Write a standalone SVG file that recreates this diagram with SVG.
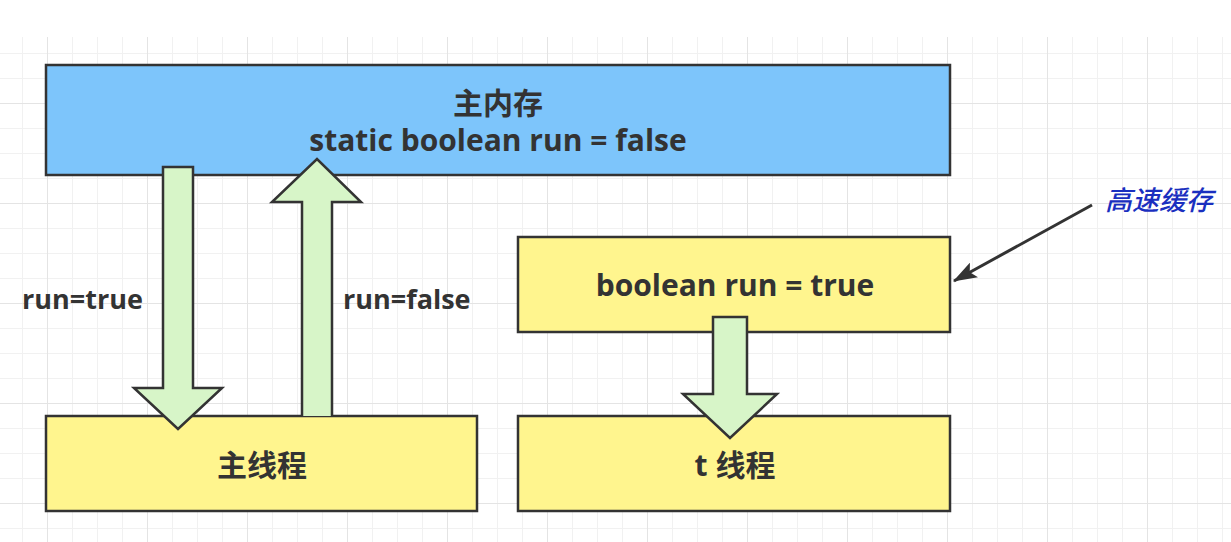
<svg xmlns="http://www.w3.org/2000/svg" width="1231" height="542" viewBox="0 0 1231 542">
<defs>
<pattern id="minor" x="22" y="3" width="25" height="25" patternUnits="userSpaceOnUse">
<path d="M0 0.5H25M0.5 0V25" fill="none" stroke="#f1f1f1" stroke-width="1"/>
</pattern>
<pattern id="major" x="47" y="3" width="100" height="100" patternUnits="userSpaceOnUse">
<path d="M0 0.5H100M0.5 0V100" fill="none" stroke="#e4e4e4" stroke-width="1"/>
</pattern>
<marker id="ah2" viewBox="0 0 20 14" refX="19" refY="7" markerWidth="24" markerHeight="17" orient="auto" markerUnits="userSpaceOnUse">
<path d="M0 0L20 7L0 14L4 7z" fill="#333"/>
</marker>
<style>
.box{stroke:#333;stroke-width:2.5}
.mem{fill:#7dc5fb}
.yel{fill:#fff58e}
.arr{fill:#d7f5c8;stroke:#333;stroke-width:2.5;stroke-linejoin:miter}
.t{font-family:"Open Sans","Noto Sans CJK SC",sans-serif;font-weight:bold;fill:#333;text-anchor:middle}
.big{font-size:30px}
.lbl{font-size:27px;text-anchor:start}
.note{font-family:"Noto Sans CJK SC",sans-serif;font-style:italic;font-weight:500;font-size:27px;fill:#1a2fbf}
</style>
</defs>
<rect x="0" y="0" width="1231" height="542" fill="#ffffff"/>
<rect x="0" y="37" width="1231" height="505" fill="url(#minor)"/>
<rect x="0" y="37" width="1231" height="505" fill="url(#major)"/>

<g id="main-memory">
<rect class="box mem" x="46" y="65" width="904" height="110"/>
<text class="t big" x="498" y="114">主内存</text>
<text class="t big" x="498" y="151">static boolean run = false</text>
</g>

<g id="main-thread">
<rect class="box yel" x="46" y="416" width="431" height="95"/>
<text class="t big" x="262" y="476">主线程</text>
</g>

<g id="cache">
<rect class="box yel" x="518" y="237" width="432" height="95"/>
<text class="t big" x="735" y="296">boolean run = true</text>
</g>

<g id="t-thread">
<rect class="box yel" x="518" y="416" width="432" height="95"/>
<text class="t big" x="735" y="476">t 线程</text>
</g>

<g id="connectors">
<path class="arr" d="M163 167H193V388H222L178 429L134 388H163Z"/>
<path class="arr" d="M302 416V202H272L317 159L361 202H332V416"/>
<path class="arr" d="M713 317H747V394H777L730 438L683 394H713Z"/>
<text class="t lbl" x="22" y="309">run=true</text>
<text class="t lbl" x="343" y="309">run=false</text>
<line x1="1092" y1="205" x2="954" y2="281" stroke="#333" stroke-width="3" marker-end="url(#ah2)"/>
</g>

<g id="note">
<text class="note" x="1105" y="210">高速缓存</text>
</g>
</svg>
